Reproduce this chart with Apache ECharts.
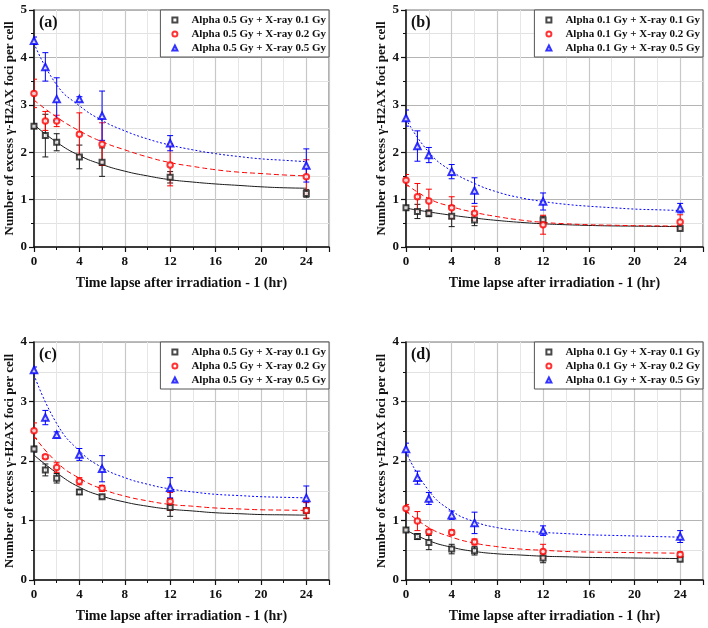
<!DOCTYPE html>
<html>
<head>
<meta charset="utf-8">
<script src="https://cdn.jsdelivr.net/npm/echarts@6/dist/echarts.min.js"></script>
<style>html,body{margin:0;padding:0;background:#fff;}#c{width:708px;height:628px;}</style>
</head>
<body>
<div id="c"></div>
<script>
// ---------- DATA ----------
const timePoints = [0, 1, 2, 4, 6, 12, 24];
const fitTimes = [0, 2, 4, 6, 8, 10, 12, 14, 16, 18, 20, 22, 24];
const xTicks = [0, 4, 8, 12, 16, 20, 24];

const namesA = ['Alpha 0.5 Gy + X-ray 0.1 Gy', 'Alpha 0.5 Gy + X-ray 0.2 Gy', 'Alpha 0.5 Gy + X-ray 0.5 Gy'];
const namesB = ['Alpha 0.1 Gy + X-ray 0.1 Gy', 'Alpha 0.1 Gy + X-ray 0.2 Gy', 'Alpha 0.1 Gy + X-ray 0.5 Gy'];
const panelLabels = ['(a)', '(b)', '(c)', '(d)'];

// panel (a)
const aBlackMean = [2.55, 2.35, 2.21, 1.90, 1.79, 1.47, 1.13];
const aBlackErr  = [0.05, 0.45, 0.18, 0.25, 0.30, 0.12, 0.08];
const aRedMean   = [3.24, 2.66, 2.66, 2.38, 2.17, 1.73, 1.48];
const aRedErr    = [0.30, 0.20, 0.12, 0.45, 0.45, 0.44, 0.36];
const aBlueMean  = [4.35, 3.80, 3.12, 3.12, 2.77, 2.19, 1.72];
const aBlueErr   = [0.08, 0.30, 0.45, 0.05, 0.52, 0.16, 0.35];
const aBlackFit  = [2.58, 2.21, 1.93, 1.74, 1.60, 1.50, 1.42, 1.37, 1.33, 1.30, 1.27, 1.25, 1.24];
const aRedFit    = [3.10, 2.74, 2.45, 2.22, 2.05, 1.90, 1.78, 1.70, 1.63, 1.58, 1.55, 1.52, 1.50];
const aBlueFit   = [4.30, 3.42, 2.98, 2.67, 2.45, 2.28, 2.15, 2.05, 1.97, 1.91, 1.86, 1.83, 1.80];

// panel (b)
const bBlackMean = [0.83, 0.75, 0.71, 0.65, 0.57, 0.57, 0.39];
const bBlackErr  = [0.05, 0.15, 0.07, 0.22, 0.12, 0.08, 0.03];
const bRedMean   = [1.41, 1.06, 0.97, 0.83, 0.71, 0.47, 0.53];
const bRedErr    = [0.12, 0.28, 0.25, 0.23, 0.15, 0.20, 0.15];
const bBlueMean  = [2.72, 2.13, 1.94, 1.59, 1.19, 0.96, 0.82];
const bBlueErr   = [0.17, 0.32, 0.16, 0.15, 0.27, 0.18, 0.10];
const bBlackFit  = [0.82, 0.74, 0.67, 0.61, 0.56, 0.52, 0.49, 0.47, 0.455, 0.445, 0.44, 0.435, 0.43];
const bRedFit    = [1.33, 1.02, 0.85, 0.73, 0.64, 0.57, 0.52, 0.49, 0.47, 0.46, 0.45, 0.445, 0.44];
const bBlueFit   = [2.70, 2.00, 1.60, 1.34, 1.16, 1.04, 0.96, 0.90, 0.86, 0.83, 0.80, 0.785, 0.77];

// panel (c)
const cBlackMean = [2.20, 1.85, 1.71, 1.48, 1.40, 1.22, 1.17];
const cBlackErr  = [0.05, 0.10, 0.08, 0.04, 0.03, 0.15, 0.14];
const cRedMean   = [2.51, 2.07, 1.89, 1.66, 1.54, 1.32, 1.17];
const cRedErr    = [0.13, 0.03, 0.08, 0.06, 0.05, 0.15, 0.13];
const cBlueMean  = [3.53, 2.73, 2.44, 2.11, 1.87, 1.55, 1.38];
const cBlueErr   = [0.05, 0.12, 0.05, 0.10, 0.22, 0.17, 0.20];
const cBlackFit  = [2.10, 1.80, 1.56, 1.41, 1.31, 1.24, 1.19, 1.16, 1.13, 1.115, 1.10, 1.095, 1.09];
const cRedFit    = [2.42, 1.98, 1.71, 1.53, 1.41, 1.33, 1.27, 1.24, 1.21, 1.195, 1.18, 1.175, 1.17];
const cBlueFit   = [3.45, 2.63, 2.17, 1.89, 1.72, 1.61, 1.53, 1.48, 1.44, 1.42, 1.40, 1.39, 1.38];

// panel (d)
const dBlackMean = [0.84, 0.73, 0.63, 0.52, 0.49, 0.37, 0.35];
const dBlackErr  = [0.04, 0.05, 0.12, 0.08, 0.07, 0.08, 0.03];
const dRedMean   = [1.20, 0.99, 0.81, 0.80, 0.64, 0.48, 0.43];
const dRedErr    = [0.07, 0.16, 0.04, 0.04, 0.05, 0.12, 0.04];
const dBlueMean  = [2.20, 1.72, 1.37, 1.09, 0.96, 0.83, 0.73];
const dBlueErr   = [0.10, 0.11, 0.10, 0.07, 0.18, 0.08, 0.10];
const dBlackFit  = [0.84, 0.66, 0.55, 0.48, 0.44, 0.42, 0.40, 0.39, 0.38, 0.375, 0.37, 0.365, 0.36];
const dRedFit    = [1.16, 0.88, 0.72, 0.62, 0.56, 0.52, 0.50, 0.48, 0.47, 0.465, 0.46, 0.455, 0.45];
const dBlueFit   = [2.15, 1.50, 1.16, 0.98, 0.88, 0.83, 0.80, 0.78, 0.76, 0.75, 0.74, 0.73, 0.72];

const yMaxes = [5, 5, 4, 4];

// ---------- BUILD ----------
const FONT = '"Liberation Serif", "Times New Roman", serif';
const colors = ['#1a1a1a', '#ff0000', '#0000ff'];
const symbols = ['emptyRect', 'emptyCircle', 'emptyTriangle'];
const symSizes = [5, 5.5, 6.5];
const lineTypes = ['solid', [5, 3], [2, 2]];

const panels = [
  {names: namesA, means: [aBlackMean, aRedMean, aBlueMean], errs: [aBlackErr, aRedErr, aBlueErr], fits: [aBlackFit, aRedFit, aBlueFit]},
  {names: namesB, means: [bBlackMean, bRedMean, bBlueMean], errs: [bBlackErr, bRedErr, bBlueErr], fits: [bBlackFit, bRedFit, bBlueFit]},
  {names: namesA, means: [cBlackMean, cRedMean, cBlueMean], errs: [cBlackErr, cRedErr, cBlueErr], fits: [cBlackFit, cRedFit, cBlueFit]},
  {names: namesB, means: [dBlackMean, dRedMean, dBlueMean], errs: [dBlackErr, dRedErr, dBlueErr], fits: [dBlackFit, dRedFit, dBlueFit]}
];

const grids = [
  {left: 34, top: 10, width: 295, height: 237},
  {left: 406, top: 10, width: 297, height: 237},
  {left: 34, top: 342, width: 295, height: 238},
  {left: 406, top: 342, width: 297, height: 238}
];

const gridOpt = grids.map(g => Object.assign({show: true, borderColor: '#7a7a7a', borderWidth: 1.2, backgroundColor: 'transparent'}, g));

const xAxes = grids.map((g, i) => ({
  type: 'value', gridIndex: i, min: 0, max: 26, interval: 4,
  name: 'Time lapse after irradiation - 1 (hr)', nameLocation: 'middle', nameGap: 29,
  nameTextStyle: {fontFamily: FONT, fontWeight: 'bold', fontSize: 14, color: '#111'},
  axisLine: {show: true, lineStyle: {color: '#111', width: 1.5}},
  axisTick: {show: true, length: 5, lineStyle: {color: '#111', width: 1.2}},
  minorTick: {show: true, splitNumber: 2, length: 3, lineStyle: {color: '#111'}},
  axisLabel: {fontFamily: FONT, fontWeight: 'bold', fontSize: 13, color: '#111', margin: 8,
    formatter: v => xTicks.indexOf(v) >= 0 ? String(v) : ''},
  splitLine: {show: true, lineStyle: {color: '#c8c8c8', width: 1.2}},
  minorSplitLine: {show: true, lineStyle: {color: '#e6e6e6', width: 1}}
}));

const yAxes = grids.map((g, i) => ({
  type: 'value', gridIndex: i, min: 0, max: yMaxes[i], interval: 1,
  name: 'Number of excess \u03b3-H2AX foci per cell', nameLocation: 'middle', nameGap: 16,
  nameTextStyle: {fontFamily: FONT, fontWeight: 'bold', fontSize: 13, color: '#111'},
  axisLine: {show: true, lineStyle: {color: '#111', width: 1.5}},
  axisTick: {show: true, length: 5, lineStyle: {color: '#111', width: 1.2}},
  minorTick: {show: true, splitNumber: 2, length: 3, lineStyle: {color: '#111'}},
  axisLabel: {fontFamily: FONT, fontWeight: 'bold', fontSize: 13, color: '#111', margin: 7},
  splitLine: {show: true, lineStyle: {color: '#b4b4b4', width: 1.2}},
  minorSplitLine: {show: true, lineStyle: {color: '#e2e2e2', width: 1}}
}));

function errRender(color) {
  return function (params, api) {
    const x = api.value(0), lo = api.value(1), hi = api.value(2);
    const p1 = api.coord([x, lo]), p2 = api.coord([x, hi]);
    const w = 3;
    const st = {stroke: color, lineWidth: 1};
    return {type: 'group', children: [
      {type: 'line', shape: {x1: p1[0], y1: p1[1], x2: p2[0], y2: p2[1]}, style: st},
      {type: 'line', shape: {x1: p1[0] - w, y1: p1[1], x2: p1[0] + w, y2: p1[1]}, style: st},
      {type: 'line', shape: {x1: p2[0] - w, y1: p2[1], x2: p2[0] + w, y2: p2[1]}, style: st}
    ]};
  };
}

const series = [];
panels.forEach((p, i) => {
  for (let k = 0; k < 3; k++) {
    series.push({
      type: 'line', name: 'fit-' + i + '-' + k, xAxisIndex: i, yAxisIndex: i,
      data: fitTimes.map((t, j) => [t, p.fits[k][j]]),
      smooth: 0.5, showSymbol: false, symbol: 'none', silent: true,
      lineStyle: {color: colors[k], width: 1, type: lineTypes[k]}, z: 2
    });
    series.push({
      type: 'custom', name: 'err-' + i + '-' + k, xAxisIndex: i, yAxisIndex: i,
      data: timePoints.map((t, j) => [t, p.means[k][j] - p.errs[k][j], p.means[k][j] + p.errs[k][j]]),
      renderItem: errRender(colors[k]), encode: {x: 0, y: [1, 2]}, clip: true, silent: true, z: 3
    });
    series.push({
      type: 'scatter', name: p.names[k], xAxisIndex: i, yAxisIndex: i,
      data: timePoints.map((t, j) => [t, p.means[k][j]]),
      symbol: symbols[k], symbolSize: symSizes[k],
      itemStyle: {color: colors[k], borderColor: colors[k], borderWidth: 1}, z: 4
    });
  }
});

const legends = grids.map((g, i) => ({
  data: panels[i].names, orient: 'vertical',
  right: 708 - (g.left + g.width), top: g.top,
  itemWidth: 5, itemHeight: 5, itemGap: 2,
  padding: [4, 3, 3, 11],
  borderColor: '#555', borderWidth: 1, backgroundColor: '#fff',
  selectedMode: false,
  textStyle: {fontFamily: FONT, fontWeight: 'bold', fontSize: 11, color: '#111', lineHeight: 12, padding: [0, 0, 0, 9]}
}));

const titles = grids.map((g, i) => ({
  text: panelLabels[i], left: g.left + 5, top: g.top + 5, padding: 0,
  textStyle: {fontFamily: FONT, fontWeight: 'bold', fontSize: 16, color: '#111'}
}));

const chart = echarts.init(document.getElementById('c'));
chart.setOption({
  animation: false,
  title: titles,
  legend: legends,
  grid: gridOpt,
  xAxis: xAxes,
  yAxis: yAxes,
  series: series
});
</script>
</body>
</html>
